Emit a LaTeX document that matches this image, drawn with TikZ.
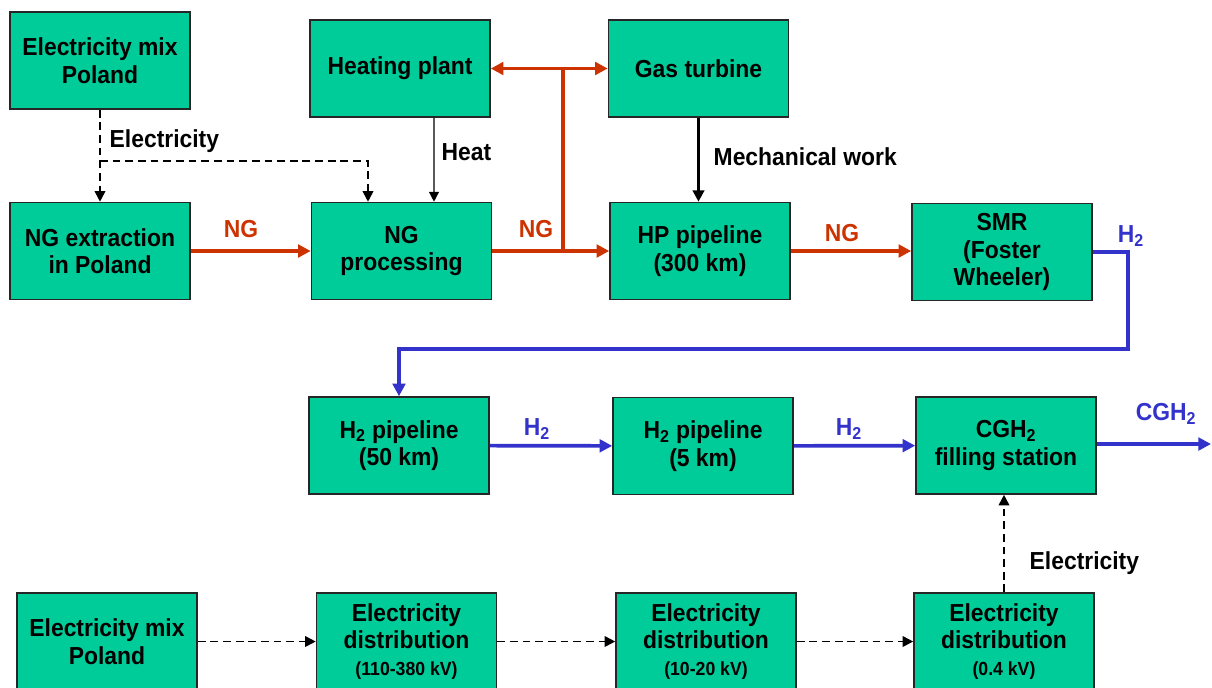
\documentclass[tikz,border=0pt]{standalone}
\usepackage{fontspec}
\setmainfont{Liberation Sans}[FakeStretch=0.93]
\usetikzlibrary{arrows.meta,calc,positioning}
\definecolor{boxgreen}{RGB}{0,204,153}
\definecolor{ngorange}{RGB}{204,51,0}
\definecolor{hblue}{RGB}{51,51,204}
\newcommand{\Htwo}{H\textsubscript{2}}

\begin{document}
\begin{tikzpicture}[
      x=0.025cm, y=-0.025cm,
      box/.style={draw=black!85, line width=1.1pt, fill=boxgreen, minimum width=4.5cm,
        minimum height=2.425cm, align=center, inner sep=2pt,
        font=\fontsize{17.5}{19.5}\selectfont\bfseries},
      lbl/.style={font=\fontsize{17.5}{19.5}\selectfont\bfseries, inner sep=1pt},
      nglabel/.style={lbl, text=ngorange},
      hlabel/.style={lbl, text=hblue},
      ngline/.style={line width=2.6pt, draw=ngorange},
      ngarrow/.style={ngline, -{Triangle[length=9pt,width=9pt]}},
      harrow/.style={-{Triangle[length=9pt,width=9pt]}, line width=2.6pt, draw=hblue},
      workarrow/.style={-{Triangle[length=8pt,width=8pt]}, line width=2pt},
      heatarrow/.style={-{Triangle[length=7pt,width=7pt]}, line width=0.9pt},
      elarrow/.style={-{Triangle[length=7.5pt,width=7.5pt]}, line width=1.2pt,
        dash pattern=on 5.5pt off 3.5pt}
    ]
    \useasboundingbox (0,0) rectangle (1212,687);

    % upper chain
    \node[box] (mixtop) at (100,60.5) {Electricity mix\\Poland};
    \node[box] (heat) at (400,68.5) {Heating plant};
    \node[box] (turbine) at (698.5,68.5) {Gas turbine};
    \node[box] (extract) at (100,251) {NG extraction\\in Poland};
    \node[box] (proc) at (401.5,251) {NG\\processing};
    \node[box] (hppipe) at (700,251) {HP pipeline\\(300 km)};
    \node[box] (smr) at (1002,252) {SMR\\(Foster\\Wheeler)};

    % hydrogen chain
    \node[box] (pipe50) at (399,445.5) {\Htwo{} pipeline\\(50 km)};
    \node[box] (pipe5) at (703,446) {\Htwo{} pipeline\\(5 km)};
    \node[box] (station) at (1006,445.5) {CGH\textsubscript{2}\\filling station};

    % electricity chain
    \node[box] (mixbot) at (107,641.5) {Electricity mix\\Poland};
    \node[box] (distA) at (406.5,641.5)
      {Electricity\\distribution\\{\fontsize{13.5}{15}\selectfont (110-380 kV)}};
    \node[box] (distB) at (706,641.5)
      {Electricity\\distribution\\{\fontsize{13.5}{15}\selectfont (10-20 kV)}};
    \node[box] (distC) at (1004,641.5)
      {Electricity\\distribution\\{\fontsize{13.5}{15}\selectfont (0.4 kV)}};

    % labels
    \node[lbl, anchor=west] (elecone) at (108,141) {Electricity};
    \node[lbl, anchor=west] (heatlbl) at (440,152) {Heat};
    \node[lbl, anchor=west] (worklbl) at (712,157) {Mechanical work};
    \node[lbl, anchor=west] (electwo) at (1028,563) {Electricity};
    \node[nglabel] (ngone) at (241,229) {NG};
    \node[nglabel] (ngtwo) at (536,229) {NG};
    \node[nglabel] (ngthree) at (842,233) {NG};
    \node[hlabel] (hone) at (1131,236) {\Htwo};
    \node[hlabel] (htwo) at (537,429) {\Htwo};
    \node[hlabel] (hthree) at (849,429) {\Htwo};
    \node[hlabel] (hfour) at (1166,414) {CGH\textsubscript{2}};

    \coordinate (elsplit) at (100,161);
    \coordinate (ngsplit) at (563,252);
    \coordinate (hbend) at (1128,349);
    \coordinate (cghout) at (1211,444);

    \draw[elarrow] (mixtop) -- (extract);
    \draw[elarrow] (elsplit) -| ($(proc.north)+(-33.5,0)$);
    \draw[heatarrow] ($(heat.south)+(34,0)$) -- ($(proc.north)+(32.5,0)$);
    \draw[workarrow] (turbine.south) -- (turbine.south |- hppipe.north);
    \draw[ngarrow] (extract) -- (proc);
    \draw[ngarrow] (proc) -- (hppipe);
    \draw[ngline] (ngsplit) -- (ngsplit |- heat.east);
    \draw[ngarrow] (ngsplit |- heat.east) -- (heat.east);
    \draw[ngarrow] (ngsplit |- heat.east) -- (turbine.west);
    \draw[ngarrow] (hppipe.east) -- (hppipe.east -| smr.west);
    \draw[harrow] (smr.east) -| (hbend) -| (pipe50.north);
    \draw[harrow] (pipe50) -- (pipe5);
    \draw[harrow] (pipe5) -- (station);
    \draw[harrow] (station.east |- cghout) -- (cghout);
    \draw[elarrow] (mixbot) -- (distA);
    \draw[elarrow] (distA) -- (distB);
    \draw[elarrow] (distB) -- (distC);
    \draw[elarrow] (distC.north) -- (distC.north |- station.south);
  \end{tikzpicture}
\end{document}
